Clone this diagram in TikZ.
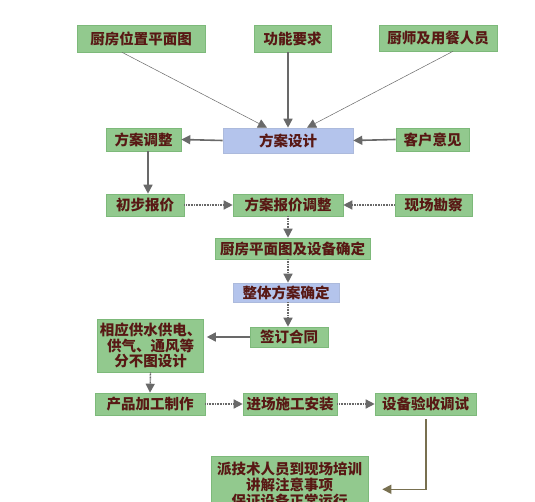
\documentclass[tikz,border=0pt]{standalone}
\usepackage{fontspec}
\setmainfont{Noto Sans CJK SC}
\usetikzlibrary{arrows.meta,calc}
\definecolor{boxgreen}{RGB}{146,201,142}
\definecolor{boxgreenline}{RGB}{125,185,122}
\definecolor{boxblue}{RGB}{180,196,236}
\definecolor{txt}{RGB}{88,24,20}
\definecolor{arr}{RGB}{105,105,105}
\definecolor{olive}{RGB}{120,112,80}
\tikzset{
  gbox/.style={draw=boxgreenline, line width=0.6pt, fill=boxgreen, text=txt, inner sep=0pt,
    font=\bfseries\fontsize{14.5}{15.5}\selectfont, align=center},
  bbox/.style={gbox, draw=boxblue!85!gray, fill=boxblue},
  tip/.style={-{Triangle[length=9pt,width=9pt]}},
  solidarr/.style={tip, draw=arr, color=arr, line width=1.6pt},
  thinarr/.style={tip, draw=black!75, line width=0.5pt, color=arr},
  dotarr/.style={tip, draw=arr!80, color=arr, line width=1.4pt, dash pattern=on 1pt off 0.6pt},
}
\begin{document}
\begin{tikzpicture}[x=1pt,y=-1pt]
\useasboundingbox (0,0) rectangle (535,502);
\fill[white] (0,0) rectangle (535,502);
% boxes
\node[gbox, minimum width=128pt, minimum height=27pt] (a) at (141,38.5) {厨房位置平面图};
\node[gbox, minimum width=77pt, minimum height=27pt] (b) at (292.5,38.5) {功能要求};
\node[gbox, minimum width=118pt, minimum height=26pt] (c) at (438,38) {厨师及用餐人员};
\node[gbox, minimum width=75pt, minimum height=23pt] (d) at (143.5,139.5) {方案调整};
\node[bbox, minimum width=130pt, minimum height=25pt] (e) at (288,140.5) {方案设计};
\node[gbox, minimum width=73pt, minimum height=23pt] (f) at (432.5,139.5) {客户意见};
\node[gbox, minimum width=78pt, minimum height=22pt] (g) at (145,205) {初步报价};
\node[gbox, minimum width=110pt, minimum height=22pt] (h) at (288,205) {方案报价调整};
\node[gbox, minimum width=77pt, minimum height=22pt] (i) at (433.5,205) {现场勘察};
\node[gbox, minimum width=155pt, minimum height=21pt] (j) at (292.5,248.5) {厨房平面图及设备确定};
\node[bbox, minimum width=106pt, minimum height=19pt] (k) at (286,292.5) {整体方案确定};
\node[gbox, minimum width=78pt, minimum height=20pt] (l) at (289,337) {签订合同};
\node[gbox, minimum width=106pt, minimum height=53pt] (m) at (150.5,345.5) {相应供水供电、\\供气、通风等\\分不图设计};
\node[gbox, minimum width=110pt, minimum height=22pt] (n) at (150,404) {产品加工制作};
\node[gbox, minimum width=94pt, minimum height=22pt] (o) at (290,404) {进场施工安装};
\node[gbox, minimum width=101pt, minimum height=22pt] (p) at (425.5,404) {设备验收调试};
\node[gbox, minimum width=157pt, minimum height=58pt, font=\bfseries\fontsize{14.5}{16}\selectfont] (q) at (289.5,485) {派技术人员到现场培训\\讲解注意事项\\保证设备正常运行};
% connectors
\draw[thinarr] ($(a.south)+(-19,0)$) -- ($(e.north)+(-21,0)$);
\draw[solidarr] (e.north |- b.south) -- (e.north);
\draw[thinarr] ($(c.south)+(15,0)$) -- ($(e.north)+(19,0)$);
\draw[solidarr] (e.west) -- (d.east);
\draw[solidarr] (f.west) -- (e.east);
\draw[solidarr] ($(d.south)+(4.5,0)$) -- ($(g.north)+(3,0)$);
\draw[dotarr] (g.east) -- (h.west);
\draw[dotarr] (i.west) -- (h.east);
\draw[dotarr] (h.south) -- (h.south |- j.north);
\draw[dotarr] (h.south |- j.south) -- (h.south |- k.north);
\draw[dotarr] (h.south |- k.south) -- (h.south |- l.north);
\draw[solidarr, shorten >=3pt] (l.west) -- (l.west -| m.east);
\draw[dotarr] (m.south) -- (n.north);
\draw[dotarr] (n.east) -- (o.west);
\draw[dotarr] (o.east) -- (p.west);
\coordinate (pq) at ($(p.south)+(0.5,74)$);
\draw[solidarr, draw=olive, shorten >=14pt] ($(p.south)+(0.5,4)$) -- (pq) -- (pq -| q.east);
\end{tikzpicture}
\end{document}
